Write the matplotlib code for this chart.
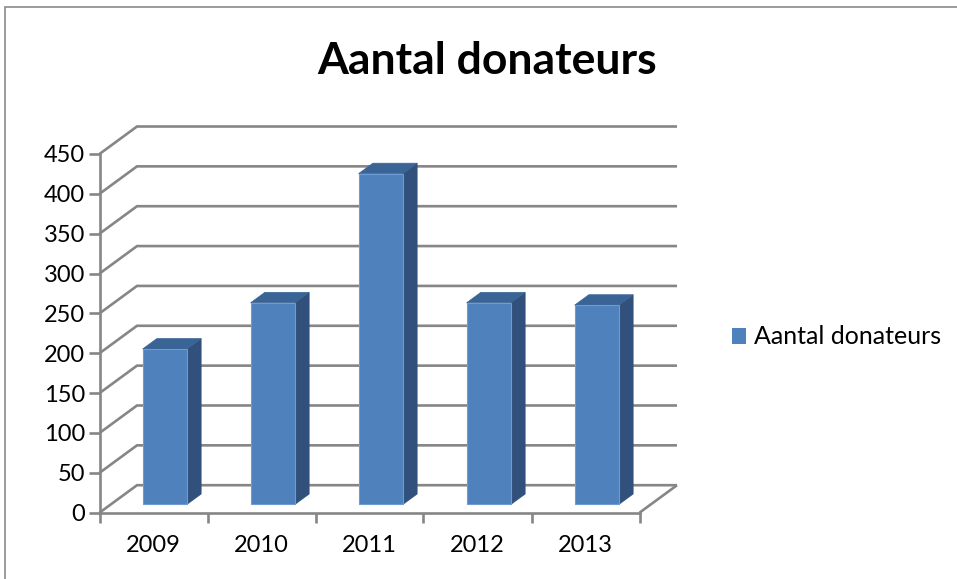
import matplotlib
matplotlib.use('Agg')
import matplotlib.pyplot as plt
from matplotlib.patches import Rectangle, Polygon, Patch

# ---- data ----
years = ['2009', '2010', '2011', '2012', '2013']
donateurs = [195, 253, 415, 253, 250]
series_name = 'Aantal donateurs'
title = 'Aantal donateurs'
y_ticks = list(range(0, 451, 50))

plt.rcParams['font.family'] = ['Lato', 'DejaVu Sans']

W, H = 957, 579
fig = plt.figure(figsize=(W / 100, H / 100), dpi=100)

# front plane axes (pixel geometry of the reference)
ax_l, ax_r, ax_b, ax_t = 99.5, 639.5, 512.7, 154.0
ax = fig.add_axes([ax_l / W, 1 - ax_b / H, (ax_r - ax_l) / W, (ax_b - ax_t) / H])
n = len(years)
ax.set_xlim(-0.5, n - 0.5)
ax.set_ylim(0, y_ticks[-1])
ax.patch.set_visible(False)

grid_c = '#868686'
lw = 1.9

# depth offset (oblique projection) in data units
px_x = (ax_r - ax_l) / n
px_y = (ax_b - ax_t) / y_ticks[-1]
Dx = 37.5 / px_x
Dy = 27.5 / px_y

# back wall + side wall gridlines
for y in y_ticks:
    ax.plot([-0.5, -0.5 + Dx, n - 0.5 + Dx], [y, y + Dy, y + Dy],
            color=grid_c, lw=lw, clip_on=False, zorder=1,
            solid_joinstyle='miter', solid_capstyle='butt')
ax.plot([n - 0.5, n - 0.5 + Dx], [0, Dy], color=grid_c, lw=lw,
        clip_on=False, zorder=1, solid_capstyle='butt')

# 3D bars
front_c = '#4F81BD'
side_c = '#31517C'
top_c = '#3A6496'
bw = 0.41
f1 = 0.30   # front face depth fraction
d = 0.38    # bar depth fraction
for i, v in enumerate(donateurs):
    x0 = i - bw / 2 + f1 * Dx
    x1 = x0 + bw
    y0 = f1 * Dy
    y1 = v + f1 * Dy
    ddx, ddy = d * Dx, d * Dy
    ax.add_patch(Polygon([(x1, y0), (x1, y1), (x1 + ddx, y1 + ddy), (x1 + ddx, y0 + ddy)],
                         closed=True, facecolor=side_c, edgecolor=side_c, lw=0.5,
                         clip_on=False, zorder=3))
    ax.add_patch(Polygon([(x0, y1), (x1, y1), (x1 + ddx, y1 + ddy), (x0 + ddx, y1 + ddy)],
                         closed=True, facecolor=top_c, edgecolor=top_c, lw=0.5,
                         clip_on=False, zorder=3))
    ax.add_patch(Rectangle((x0, y0), bw, v, facecolor=front_c, edgecolor='#6E9BD3',
                           lw=0.8, clip_on=False, zorder=4))

# axes lines
for s in ['top', 'right']:
    ax.spines[s].set_visible(False)
for s in ['left', 'bottom']:
    ax.spines[s].set_color(grid_c)
    ax.spines[s].set_linewidth(lw)
    ax.spines[s].set_zorder(2)

ax.set_yticks(y_ticks)
ax.set_yticklabels([str(t) for t in y_ticks])
ax.tick_params(axis='y', length=8, width=lw, color=grid_c, labelsize=17, pad=2.5)

ax.set_xticks(range(n))
ax.set_xticklabels(years)
ax.set_xticks([i - 0.5 for i in range(n + 1)], minor=True)
ax.tick_params(axis='x', which='major', length=0, labelsize=17, pad=16)
ax.tick_params(axis='x', which='minor', length=7, width=lw, color=grid_c)

# title
fig.text(487 / W, 1 - 61 / H, title, ha='center', va='center',
         fontsize=32, fontweight='bold', color='black')

# legend
fig.legend(handles=[Patch(facecolor=front_c, edgecolor='none')], labels=[series_name],
           loc='center left', bbox_to_anchor=(732 / W, 1 - 337 / H), frameon=False,
           fontsize=18, handlelength=0.55, handleheight=0.6, handletextpad=0.35,
           borderaxespad=0, borderpad=0)

# chart border
fig.add_artist(Rectangle((5 / W, -0.1), 1.2, (H - 7) / H + 0.1, transform=fig.transFigure,
                         fill=False, edgecolor='#8a8a8a', lw=1.2))

fig.savefig('out.png', dpi=100)
